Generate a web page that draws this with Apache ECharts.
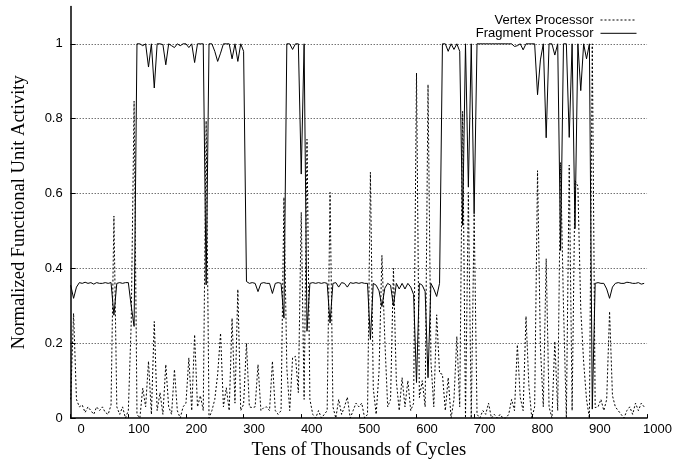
<!DOCTYPE html>
<html>
<head>
<meta charset="utf-8">
<script src="https://cdn.jsdelivr.net/npm/echarts@6/dist/echarts.min.js"></script>
<style>
html,body{margin:0;padding:0;background:#fff;}
#chart{width:675px;height:465px;}
</style>
</head>
<body>
<div id="chart"></div>
<script>
// Tens of thousands of cycles (x values)
const cycles = [
  0,5,10,15,20,25,30,35,40,45, 50,55,60,65,70,75,80,85,90,95,
  100,105,110,115,120,125,130,135,140,145, 150,155,160,165,170,175,180,185,190,195,
  200,205,210,215,220,225,230,235,240,245, 250,255,260,265,270,275,280,285,290,295,
  300,305,310,315,320,325,330,335,340,345, 350,355,360,365,370,375,380,385,390,395,
  400,405,410,415,420,425,430,435,440,445, 450,455,460,465,470,475,480,485,490,495,
  500,505,510,515,520,525,530,535,540,545, 550,555,560,565,570,575,580,585,590,595,
  600,605,610,615,620,625,630,635,640,645, 650,655,660,665,670,675,680,685,690,695,
  700,705,710,715,720,725,730,735,740,745, 750,755,760,765,770,775,780,785,790,795,
  800,805,810,815,820,825,830,835,840,845, 850,855,860,865,870,875,880,885,890,895,
  900,905,910,915,920,925,930,935,940,945, 950,955,960,965,970,975,980,985,990,995
];

const vertexActivity = [
  0.05,0.28,0.05,0.03,0.035,0.015,0.03,0.02,0.01,0.03,
  0.02,0.03,0.015,0.01,0.035,0.54,0.03,0.01,0.03,0.0,
  0.02,0.254,0.847,0.01,0.0,0.08,0.03,0.152,0.01,0.258,
  0.02,0.068,0.01,0.143,0.03,0.01,0.13,0.02,0.0,0.03,
  0.04,0.161,0.02,0.223,0.03,0.06,0.02,0.794,0.0,0.02,
  0.05,0.117,0.227,0.03,0.081,0.02,0.267,0.04,0.344,0.02,
  0.037,0.2,0.03,0.028,0.03,0.143,0.02,0.028,0.03,0.02,
  0.152,0.02,0.01,0.02,0.59,0.134,0.02,0.161,0.165,0.068,
  0.55,0.05,0.745,0.05,0.01,0.0,0.02,0.0,0.01,0.02,
  0.603,0.03,0.0,0.05,0.01,0.03,0.056,0.0,0.02,0.04,
  0.03,0.04,0.0,0.01,0.657,0.08,0.01,0.125,0.435,0.21,
  0.03,0.05,0.40,0.099,0.02,0.108,0.03,0.1,0.02,0.04,
  0.922,0.055,0.1,0.03,0.891,0.152,0.03,0.276,0.12,0.117,
  0.02,0.108,0.0,0.05,0.218,0.03,0.82,0.0,0.603,0.0,
  0.546,0.01,0.0,0.02,0.01,0.04,0.0,0.01,0.0,0.01,
  0.0,0.0,0.01,0.05,0.02,0.196,0.055,0.02,0.272,0.086,
  0.0,0.03,0.661,0.19,0.03,0.426,0.03,0.0,0.205,0.02,
  0.683,0.3,0.0,0.676,0.02,0.634,0.62,0.29,0.15,0.05,
  0.0,1.0,0.028,0.03,0.05,0.02,0.05,0.285,0.06,0.03,
  0.02,0.01,0.0,0.02,0.03,0.01,0.04,0.02,0.04,0.03
];

const fragmentActivity = [
  0.355,0.32,0.35,0.362,0.36,0.363,0.36,0.362,0.358,0.362,
  0.36,0.36,0.362,0.36,0.362,0.275,0.36,0.362,0.36,0.362,
  0.362,0.30,0.245,1.0,1.0,0.995,1.0,0.938,1.0,0.882,
  1.0,1.0,0.998,0.944,1.0,0.995,0.99,1.0,0.995,1.0,
  1.0,0.99,1.0,0.95,1.0,1.0,1.0,0.356,1.0,1.0,
  0.98,0.953,0.975,1.0,1.0,1.0,0.96,1.0,0.953,1.0,
  0.98,0.365,0.36,0.362,0.36,0.338,0.36,0.362,0.36,0.36,
  0.333,0.36,0.362,0.36,0.267,1.0,1.0,0.985,1.0,1.0,
  0.652,1.0,0.232,0.36,0.362,0.36,0.362,0.36,0.362,0.36,
  0.254,0.36,0.362,0.35,0.362,0.36,0.35,0.362,0.36,0.362,
  0.36,0.362,0.36,0.36,0.21,0.36,0.355,0.34,0.298,0.347,
  0.36,0.355,0.30,0.36,0.345,0.36,0.345,0.36,0.35,0.33,
  0.095,0.36,0.355,0.338,0.108,0.36,0.345,0.325,0.36,1.0,
  1.0,0.98,1.0,0.985,1.0,0.98,0.515,1.0,0.617,1.0,
  0.546,1.0,1.0,1.0,1.0,1.0,1.0,1.0,1.0,1.0,
  1.0,1.0,1.0,1.0,0.993,0.995,1.0,0.984,1.0,1.0,
  1.0,1.0,0.864,0.957,1.0,0.749,1.0,1.0,0.97,1.0,
  0.448,1.0,1.0,0.75,1.0,0.506,1.0,0.875,1.0,0.96,
  1.0,0.024,0.36,0.362,0.36,0.36,0.345,0.32,0.35,0.36,
  0.362,0.36,0.36,0.363,0.362,0.36,0.36,0.362,0.358,0.36
];

const seriesNames = ['Vertex Processor', 'Fragment Processor'];
const xTitle = 'Tens of Thousands of Cycles';
const yTitle = 'Normalized Functional Unit Activity';

function pairs(xs, ys) { return xs.map((x, i) => [x, ys[i]]); }

const chart = echarts.init(document.getElementById('chart'), null, {renderer: 'canvas'});
chart.setOption({
  animation: false,
  backgroundColor: '#fff',
  grid: { left: 70.7, right: 23.3, top: 6.4, bottom: 44.3, containLabel: false },
  legend: {
    orient: 'vertical', align: 'right', right: 33, top: 8.5,
    itemWidth: 36, itemHeight: 13, itemGap: 0.3,
    textStyle: { fontFamily: 'Liberation Sans', fontSize: 13, color: '#000', lineHeight: 13, padding: [0, 2, 0, 0] },
    itemStyle: { opacity: 0 },
    lineStyle: { width: 1 },
    data: seriesNames
  },
  xAxis: {
    type: 'value', min: 0, max: 1000, interval: 100,
    name: xTitle, nameLocation: 'middle', nameGap: 22,
    nameTextStyle: { fontFamily: 'Liberation Serif', fontSize: 18.5, color: '#000' },
    axisLine: { show: true, lineStyle: { color: '#000', width: 1.5 } },
    axisTick: { show: true, inside: true, length: 4, lineStyle: { color: '#000', width: 1 } },
    axisLabel: { color: '#000', fontFamily: 'Liberation Sans', fontSize: 13, margin: 5, padding: [0, 0, 0, 21],
      formatter: v => String(v) },
    splitLine: { show: false }
  },
  yAxis: {
    type: 'value', min: 0, max: 1.1, interval: 0.2,
    name: yTitle, nameLocation: 'middle', nameGap: 42,
    nameTextStyle: { fontFamily: 'Liberation Serif', fontSize: 18.5, color: '#000' },
    axisLine: { show: true, lineStyle: { color: '#000', width: 1.5 } },
    axisTick: { show: true, inside: true, length: 5, lineStyle: { color: '#000', width: 1 } },
    axisLabel: { color: '#000', fontFamily: 'Liberation Sans', fontSize: 13, margin: 8, showMaxLabel: false,
      formatter: v => (Math.abs(v - 1.1) < 1e-6 ? '' : String(Math.round(v * 10) / 10)) },
    splitLine: { show: true, showMinLine: false, showMaxLine: false, lineStyle: { color: '#333', width: 1, type: [1, 2] } }
  },
  series: [
    {
      name: seriesNames[0], type: 'line', symbol: 'none', showSymbol: false,
      data: pairs(cycles, vertexActivity),
      lineStyle: { color: '#000', width: 1, type: [2, 2] },
      itemStyle: { color: '#000' }
    },
    {
      name: seriesNames[1], type: 'line', symbol: 'none', showSymbol: false,
      data: pairs(cycles, fragmentActivity),
      lineStyle: { color: '#000', width: 1 },
      itemStyle: { color: '#000' }
    }
  ]
});
</script>
</body>
</html>
